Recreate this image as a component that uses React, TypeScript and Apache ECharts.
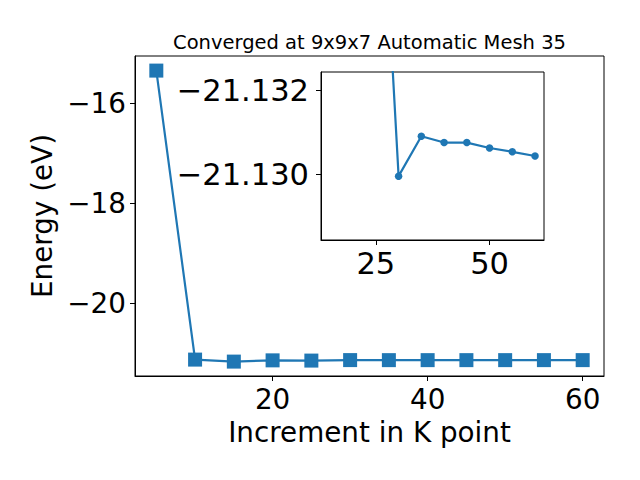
import React, { useEffect, useRef } from 'react';
import * as echarts from 'echarts';

const kPoints = [5, 10, 15, 20, 25, 30, 35, 40, 45, 50, 55, 60];
const energies = [-15.34, -21.12, -21.16, -21.135, -21.1397, -21.12995, -21.1309, -21.13075, -21.13075, -21.13062, -21.13053, -21.13043];
const mainXTicks = [20, 40, 60];
const mainYTicks = [-20, -18, -16];
const insetXTicks = [25, 50];
const insetYTicks = [-21.132, -21.13];
const titleText = 'Converged at 9x9x7 Automatic Mesh 35';
const xName = 'Increment in K point';
const yName = 'Energy (eV)';

const FONT = 'DejaVu Sans';
const BLUE = '#1f77b4';

const minus = (s: string) => s.replace('-', '\u2212');

export default function App() {
  const ref = useRef<HTMLDivElement>(null);
  useEffect(() => {
    if (!ref.current) return;
    const chart = echarts.init(ref.current, null, { renderer: 'svg' });
    const pairs = kPoints.map((k, i) => [k, energies[i]]);
    const axisCommon = {
      axisLine: { show: true, lineStyle: { color: '#000', width: 1 } },
      axisTick: { show: true, length: 5, inside: false, lineStyle: { color: '#000', width: 1 } },
      splitLine: { show: false },
    };
    chart.setOption({
      animation: false,
      backgroundColor: '#fff',
      graphic: [
        {
          type: 'text',
          x: 369.5,
          y: 42,
          style: {
            text: titleText,
            font: `19.5px "${FONT}"`,
            fill: '#000',
            textAlign: 'center',
            textVerticalAlign: 'middle',
          },
        },
      ],
      grid: [
        { left: 135, top: 56, width: 469, height: 320, show: true, borderColor: '#000', borderWidth: 1, backgroundColor: 'transparent' },
        { left: 321, top: 72, width: 223, height: 168, show: true, borderColor: '#000', borderWidth: 1, backgroundColor: '#fff', z: 5 },
      ],
      xAxis: [
        {
          ...axisCommon,
          type: 'value',
          gridIndex: 0,
          min: 2.25,
          max: 62.75,
          axisTick: { ...axisCommon.axisTick, customValues: mainXTicks },
          axisLabel: { customValues: mainXTicks, fontFamily: FONT, fontSize: 27.8, color: '#000', margin: 9 },
          name: xName,
          nameLocation: 'middle',
          nameGap: 42,
          nameTextStyle: { fontFamily: FONT, fontSize: 27.8, color: '#000' },
        },
        {
          ...axisCommon,
          type: 'value',
          gridIndex: 1,
          min: 12.94,
          max: 61.97,
          z: 6,
          axisTick: { ...axisCommon.axisTick, customValues: insetXTicks },
          axisLabel: { customValues: insetXTicks, fontFamily: FONT, fontSize: 30.5, color: '#000', margin: 8 },
        },
      ],
      yAxis: [
        {
          ...axisCommon,
          type: 'value',
          gridIndex: 0,
          min: -21.448,
          max: -15.048,
          axisTick: { ...axisCommon.axisTick, customValues: mainYTicks },
          axisLabel: {
            customValues: mainYTicks,
            fontFamily: FONT,
            fontSize: 27.8,
            color: '#000',
            margin: 9,
            formatter: (v: number) => minus(String(v)),
          },
          name: yName,
          nameLocation: 'middle',
          nameGap: 74,
          nameTextStyle: { fontFamily: FONT, fontSize: 27.8, color: '#000' },
        },
        {
          ...axisCommon,
          type: 'value',
          gridIndex: 1,
          inverse: true,
          min: -21.13243,
          max: -21.12843,
          z: 6,
          axisTick: { ...axisCommon.axisTick, customValues: insetYTicks },
          axisLabel: {
            customValues: insetYTicks,
            fontFamily: FONT,
            fontSize: 30.5,
            color: '#000',
            margin: 12,
            formatter: (v: number) => minus(v.toFixed(3)),
          },
        },
      ],
      series: [
        {
          type: 'line',
          xAxisIndex: 0,
          yAxisIndex: 0,
          data: pairs,
          symbol: 'rect',
          symbolSize: 14,
          showSymbol: true,
          lineStyle: { color: BLUE, width: 2.2 },
          itemStyle: { color: BLUE },
          clip: true,
          z: 2,
        },
        {
          type: 'line',
          xAxisIndex: 1,
          yAxisIndex: 1,
          data: pairs,
          symbol: 'circle',
          symbolSize: 7.5,
          showSymbol: true,
          lineStyle: { color: BLUE, width: 2.2 },
          itemStyle: { color: BLUE },
          clip: true,
          z: 7,
        },
      ],
    });
    return () => chart.dispose();
  }, []);
  return <div ref={ref} style={{ position: 'fixed', left: 0, top: 0, width: 640, height: 480 }} />;
}
